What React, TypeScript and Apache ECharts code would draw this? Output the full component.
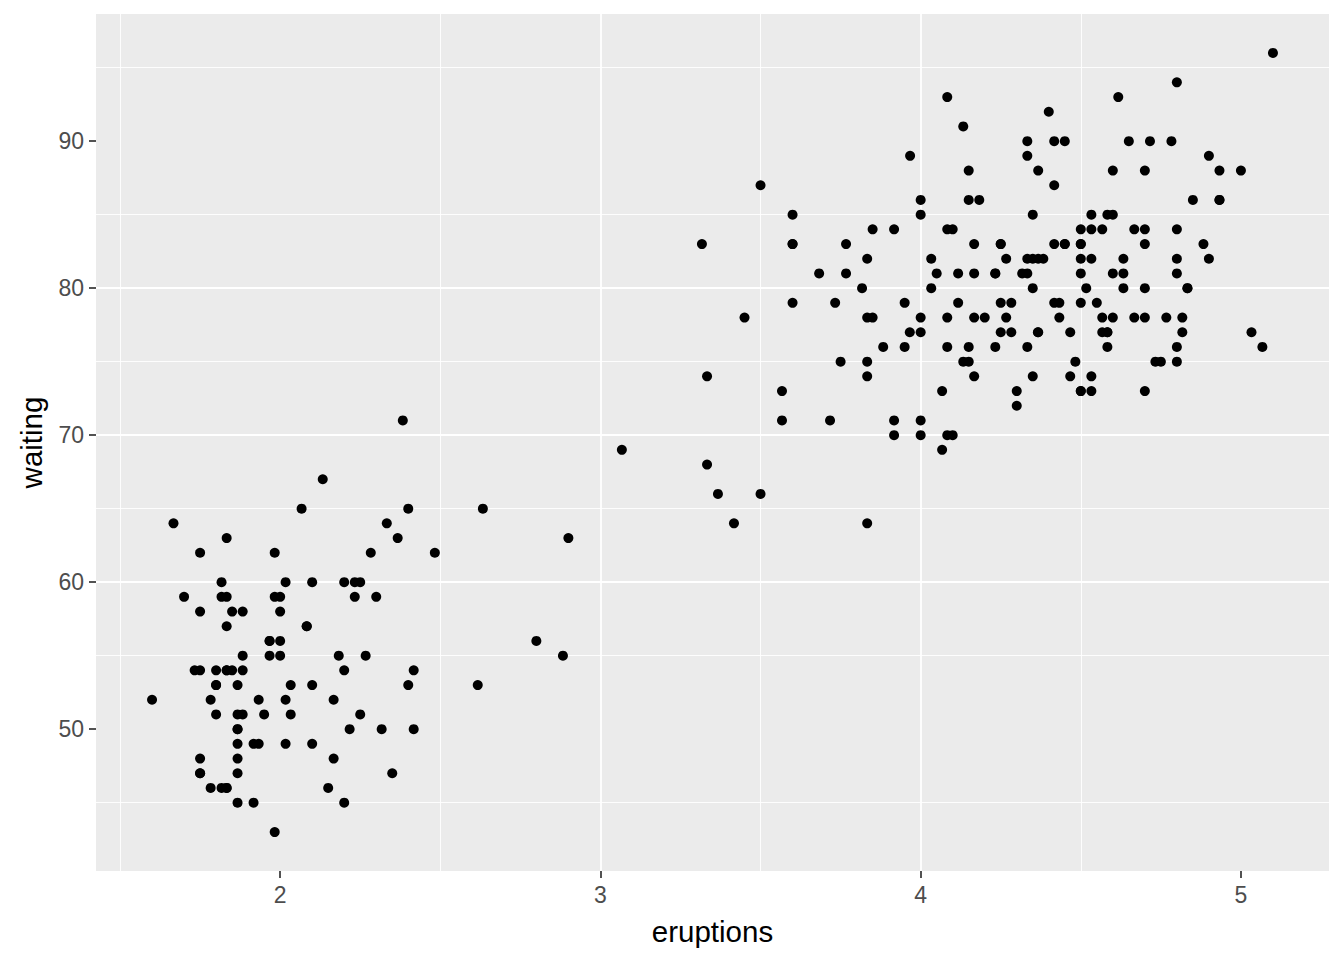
import React, { useEffect, useRef } from "react";
import * as echarts from "echarts";

const eruptions: number[] = [
  3.6, 1.8, 3.333, 2.283, 4.533, 2.883, 4.7, 3.6, 1.95, 4.35,
  1.833, 3.917, 4.2, 1.75, 4.7, 2.167, 1.75, 4.8, 1.6, 4.25,
  1.8, 1.75, 3.45, 3.067, 4.533, 3.6, 1.967, 4.083, 3.85, 4.433,
  4.3, 4.467, 3.367, 4.033, 3.833, 2.017, 1.867, 4.833, 1.833, 4.783,
  4.35, 1.883, 4.567, 1.75, 4.533, 3.317, 3.833, 2.1, 4.633, 2.0,
  4.8, 4.716, 1.833, 4.833, 1.733, 4.883, 3.717, 1.667, 4.567, 4.317,
  2.233, 4.5, 1.75, 4.8, 1.817, 4.4, 4.167, 4.7, 2.067, 4.7,
  4.033, 1.967, 4.5, 4.0, 1.983, 5.067, 2.017, 4.567, 3.883, 3.6,
  4.133, 4.333, 4.1, 2.633, 4.067, 4.933, 3.95, 4.517, 2.167, 4.0,
  2.2, 4.333, 1.867, 4.817, 1.833, 4.3, 4.667, 3.75, 1.867, 4.9,
  2.483, 4.367, 2.1, 4.5, 4.05, 1.867, 4.7, 1.783, 4.85, 3.683,
  4.733, 2.3, 4.9, 4.417, 1.7, 4.633, 2.317, 4.6, 1.817, 4.417,
  2.617, 4.067, 4.25, 1.967, 4.6, 3.767, 1.917, 4.5, 2.267, 4.65,
  1.867, 4.167, 2.8, 4.333, 1.833, 4.383, 1.883, 4.933, 2.033, 3.733,
  4.233, 2.233, 4.533, 4.817, 4.333, 1.983, 4.633, 2.017, 5.1, 1.8,
  5.033, 4.0, 2.4, 4.6, 3.567, 4.0, 4.5, 4.083, 1.8, 3.967,
  2.2, 4.15, 2.0, 3.833, 3.5, 4.583, 2.367, 5.0, 1.933, 4.617,
  1.917, 2.083, 4.583, 3.333, 4.167, 4.333, 4.5, 2.417, 4.0, 4.167,
  1.883, 4.583, 4.25, 3.767, 2.033, 4.433, 4.083, 1.833, 4.417, 2.183,
  4.8, 1.833, 4.8, 4.1, 3.966, 4.233, 3.5, 4.366, 2.25, 4.667,
  2.1, 4.35, 4.133, 1.867, 4.6, 1.783, 4.367, 3.85, 1.933, 4.5,
  2.383, 4.7, 1.867, 3.833, 3.417, 4.233, 2.4, 4.8, 2.0, 4.15,
  1.867, 4.267, 1.75, 4.483, 4.0, 4.117, 4.083, 4.267, 3.917, 4.55,
  4.083, 2.417, 4.183, 2.217, 4.45, 1.883, 1.85, 4.283, 3.95, 2.333,
  4.15, 2.35, 4.933, 2.9, 4.583, 3.833, 2.083, 4.367, 2.133, 4.35,
  2.2, 4.45, 3.567, 4.5, 4.15, 3.817, 3.917, 4.45, 2.0, 4.283,
  4.767, 4.533, 1.85, 4.25, 1.983, 2.25, 4.75, 4.117, 2.15, 4.417,
  1.817, 4.467,
];

const waiting: number[] = [
  79, 54, 74, 62, 85, 55, 88, 85, 51, 85,
  54, 84, 78, 47, 83, 52, 62, 84, 52, 79,
  51, 47, 78, 69, 74, 83, 55, 76, 78, 79,
  73, 77, 66, 80, 74, 52, 48, 80, 59, 90,
  80, 58, 84, 58, 73, 83, 64, 53, 82, 59,
  75, 90, 54, 80, 54, 83, 71, 64, 77, 81,
  59, 84, 48, 82, 60, 92, 78, 78, 65, 73,
  82, 56, 79, 71, 62, 76, 60, 78, 76, 83,
  75, 82, 70, 65, 73, 88, 76, 80, 48, 86,
  60, 90, 50, 78, 63, 72, 84, 75, 51, 82,
  62, 88, 49, 83, 81, 47, 84, 52, 86, 81,
  75, 59, 89, 79, 59, 81, 50, 85, 59, 87,
  53, 69, 77, 56, 88, 81, 45, 82, 55, 90,
  45, 83, 56, 89, 46, 82, 51, 86, 53, 79,
  81, 60, 82, 77, 76, 59, 80, 49, 96, 53,
  77, 77, 65, 81, 71, 70, 81, 93, 53, 89,
  45, 86, 58, 78, 66, 76, 63, 88, 52, 93,
  49, 57, 77, 68, 81, 81, 73, 50, 85, 74,
  55, 77, 83, 83, 51, 78, 84, 46, 83, 55,
  81, 57, 76, 84, 77, 81, 87, 77, 51, 78,
  60, 82, 91, 53, 78, 46, 77, 84, 49, 83,
  71, 80, 49, 75, 64, 76, 53, 94, 55, 76,
  50, 82, 54, 75, 78, 79, 78, 78, 70, 79,
  70, 54, 86, 50, 90, 54, 54, 77, 79, 64,
  75, 47, 86, 63, 85, 82, 57, 82, 67, 74,
  54, 83, 73, 73, 88, 80, 71, 83, 56, 79,
  78, 84, 58, 83, 43, 60, 75, 81, 46, 90,
  46, 74,
];

const xTicks: number[] = [2, 3, 4, 5];
const yTicks: number[] = [50, 60, 70, 80, 90];

const FONT = "'Liberation Sans', Arial, Helvetica, sans-serif";

function expandRange(vals: number[]): [number, number] {
  const lo = Math.min(...vals);
  const hi = Math.max(...vals);
  const pad = (hi - lo) * 0.05;
  return [lo - pad, hi + pad];
}

export default function App() {
  const ref = useRef<HTMLDivElement>(null);

  useEffect(() => {
    document.body.style.margin = "0";
    if (!ref.current) return;
    const chart = echarts.init(ref.current, undefined, { renderer: "svg" });
    const [xMin, xMax] = expandRange(eruptions);
    const [yMin, yMax] = expandRange(waiting);
    const data = eruptions.map((e, i) => [e, waiting[i]]);

    const axisCommon = {
      axisLine: {
        show: true,
        lineStyle: { color: "rgba(0,0,0,0)", width: 1 },
      },
      splitLine: {
        show: true,
        showMinLine: false,
        showMaxLine: false,
        lineStyle: { color: "#FFFFFF", width: 1.8 },
      },
      minorTick: { show: false, splitNumber: 2 },
      minorSplitLine: {
        show: true,
        lineStyle: { color: "#FFFFFF", width: 0.9 },
      },
    };

    const tickStyle = {
      show: true,
      length: 7,
      lineStyle: { color: "#333333", width: 1.7 },
    };

    chart.setOption({
      animation: false,
      grid: {
        left: 96,
        right: 15,
        top: 14,
        bottom: 89,
        show: true,
        backgroundColor: "#EBEBEB",
        borderWidth: 0,
        containLabel: false,
      },
      xAxis: {
        type: "value",
        min: xMin,
        max: xMax,
        minInterval: 1,
        maxInterval: 1,
        name: "eruptions",
        nameLocation: "middle",
        nameGap: 45,
        nameTextStyle: { color: "#000000", fontSize: 29.5, fontFamily: FONT },
        ...axisCommon,
        axisTick: { ...tickStyle, customValues: xTicks },
        axisLabel: {
          customValues: xTicks,
          margin: 12.5,
          color: "#4D4D4D",
          fontSize: 23,
          fontFamily: FONT,
          formatter: (v: number) => (xTicks.includes(v) ? String(v) : ""),
        },
      },
      yAxis: {
        type: "value",
        min: yMin,
        max: yMax,
        minInterval: 10,
        maxInterval: 10,
        name: "waiting",
        nameLocation: "middle",
        nameGap: 50,
        nameRotate: 90,
        nameTextStyle: { color: "#000000", fontSize: 29.5, fontFamily: FONT },
        ...axisCommon,
        axisTick: { ...tickStyle, customValues: yTicks },
        axisLabel: {
          customValues: yTicks,
          margin: 12,
          color: "#4D4D4D",
          fontSize: 23,
          fontFamily: FONT,
          formatter: (v: number) => (yTicks.includes(v) ? String(v) : ""),
        },
      },
      series: [
        {
          type: "scatter",
          data,
          symbol: "circle",
          symbolSize: 10,
          itemStyle: { color: "#000000", opacity: 1 },
          emphasis: { disabled: true },
        },
      ],
    });

    return () => {
      chart.dispose();
    };
  }, []);

  return <div ref={ref} style={{ width: 1344, height: 960 }} />;
}
